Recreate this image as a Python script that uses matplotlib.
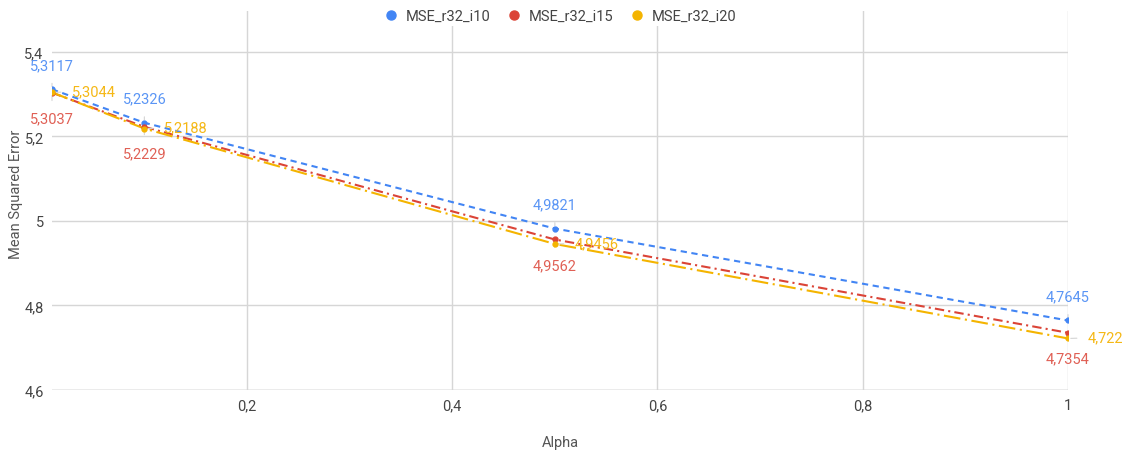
import matplotlib
matplotlib.use("Agg")
import matplotlib.pyplot as plt
from matplotlib.ticker import FuncFormatter
from matplotlib.lines import Line2D

plt.rcParams['font.family'] = ['Roboto', 'DejaVu Sans']

alpha = [0.01, 0.1, 0.5, 1.0]
mse_i10 = [5.3117, 5.2326, 4.9821, 4.7645]
mse_i15 = [5.3037, 5.2229, 4.9562, 4.7354]
mse_i20 = [5.3044, 5.2188, 4.9456, 4.722]
names = ['MSE_r32_i10', 'MSE_r32_i15', 'MSE_r32_i20']

blue = '#4285F4'
red = '#DB4437'
yellow = '#F4B400'
fs = 10.5

def comma(v, pos=None):
    s = ('%.4f' % v).rstrip('0').rstrip('.')
    return s.replace('.', ',')

fig = plt.figure(figsize=(11.3, 4.52), dpi=100)
ax = fig.add_axes([52/1130, 1-391/452, (1068-52)/1130, (391-12)/452])

series = [
    (mse_i10, blue, (0, (3, 2.2))),
    (mse_i15, red, (0, (4.5, 2, 1, 2))),
    (mse_i20, yellow, (0, (8, 2.2, 1, 2.2))),
]
for vals, col, ls in series:
    ax.plot(alpha, vals, color=col, lw=1.5, linestyle=ls, zorder=3)
    ax.plot(alpha, vals, 'o', color=col, ms=3.5, zorder=4)

# value labels: blue above, red below, yellow to the right (offsets in pixels)
stem = dict(arrowstyle='-', color='#d4d4d4', lw=0.8, shrinkA=6, shrinkB=2)
for x, v in zip(alpha, mse_i10):
    ax.annotate(comma(v), (x, v), xytext=(0, 24), textcoords='offset pixels',
                ha='center', va='center', color='#5a95f5', fontsize=fs,
                arrowprops=stem, annotation_clip=False)
for x, v in zip(alpha, mse_i15):
    ax.annotate(comma(v), (x, v), xytext=(0, -26), textcoords='offset pixels',
                ha='center', va='center', color='#e06055', fontsize=fs,
                arrowprops=stem, annotation_clip=False)
for x, v in zip(alpha, mse_i20):
    ax.annotate(comma(v), (x, v), xytext=(20, 1), textcoords='offset pixels',
                ha='left', va='center', color='#f5b816', fontsize=fs,
                arrowprops=stem, annotation_clip=False)

ax.set_xlim(0.01, 1.0)
ax.set_ylim(4.6, 5.497)
ax.set_xticks([0.2, 0.4, 0.6, 0.8, 1.0])
ax.set_yticks([4.6, 4.8, 5.0, 5.2, 5.4])
ax.xaxis.set_major_formatter(FuncFormatter(comma))
ax.yaxis.set_major_formatter(FuncFormatter(comma))
ax.tick_params(length=0, labelsize=fs, colors='#444444', pad=6)
ax.grid(True, color='#d6d6d6', lw=1, zorder=0)
for s in ax.spines.values():
    s.set_visible(False)
ax.axhline(4.6, color='#bbbbbb', lw=1, zorder=1)

ax.set_xlabel('Alpha', fontsize=fs, color='#555555', va='center')
ax.xaxis.set_label_coords(560/1130, 1-443/452, transform=fig.transFigure)
ax.set_ylabel('Mean Squared Error', fontsize=fs, color='#555555', va='center')
ax.yaxis.set_label_coords(16/1130, 1-194/452, transform=fig.transFigure)

handles = [Line2D([], [], marker='o', ls='none', color=c, ms=6.5) for c in (blue, red, yellow)]
fig.legend(handles, names, loc='center', bbox_to_anchor=(560/1130, 1-17/452),
           ncol=3, frameon=True, facecolor='white', edgecolor='none', framealpha=1,
           fontsize=fs, labelcolor='#444444', handlelength=1.0, handletextpad=0.5,
           columnspacing=1.15, borderpad=0.2)

fig.savefig('out.png', dpi=100, facecolor='white')
